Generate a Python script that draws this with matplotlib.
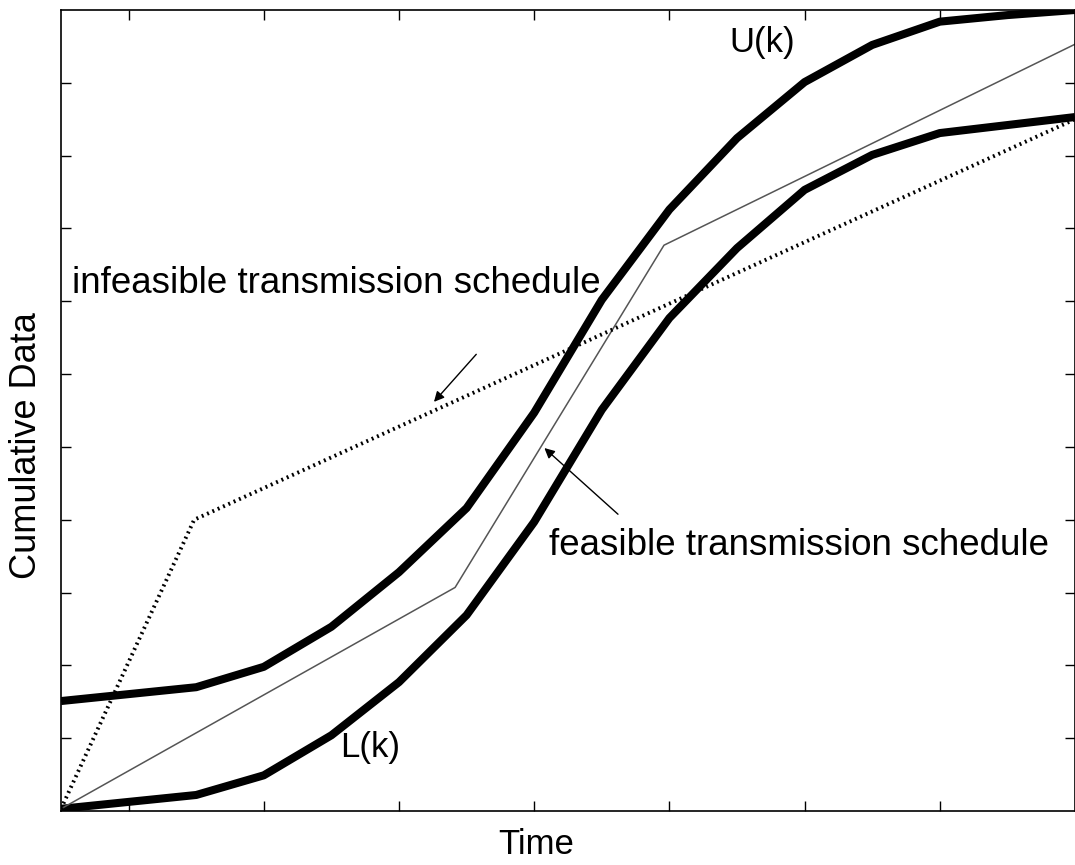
import numpy as np
import matplotlib
matplotlib.use("Agg")
import matplotlib.pyplot as plt

plt.rcParams['font.family'] = ['Liberation Sans', 'DejaVu Sans']

# time steps and bounds
k = [0, 2, 3, 4, 5, 6, 7, 8, 9, 10, 11, 12, 13, 14, 15]
upper = [1.51, 1.70, 1.98, 2.53, 3.28, 4.16, 5.47, 7.02, 8.26, 9.24, 10.01, 10.52, 10.84, 10.93, 11.0]
lower = [0.03, 0.22, 0.49, 1.04, 1.77, 2.69, 3.97, 5.51, 6.77, 7.73, 8.53, 9.01, 9.31, 9.42, 9.53]

# feasible schedule (thin line)
feas_t = [0, 5.83, 8.92, 15]
feas_y = [0.03, 3.07, 7.77, 10.53]

# infeasible schedule (dotted)
infeas_t = [0, 1.97, 15]
infeas_y = [0.03, 4.0, 9.5]

fig = plt.figure(figsize=(10.75, 8.65), dpi=100)
ax = fig.add_axes([61 / 1075, 54 / 865, 1014 / 1075, 801 / 865])

ax.plot(k, upper, color='black', lw=5.8, solid_capstyle='butt', solid_joinstyle='round')
ax.plot(k, lower, color='black', lw=5.8, solid_capstyle='butt', solid_joinstyle='round')
ax.plot(feas_t, feas_y, color='#555555', lw=1.1)
ax.plot(infeas_t, infeas_y, color='black', lw=2.8, linestyle=(0, (0.5, 1.0)))

ax.set_xlim(0, 15)
ax.set_ylim(0, 11)
ax.set_xticks([1, 3, 5, 7, 9, 11, 13])
ax.set_yticks(range(1, 11))
ax.tick_params(direction='in', top=True, right=True, length=7, width=1,
               labelbottom=False, labelleft=False)
for s in ax.spines.values():
    s.set_linewidth(1.2)

ax.set_xlabel('Time', fontsize=25, va='center')
ax.xaxis.set_label_coords(0.469, -0.042)
ax.set_ylabel('Cumulative Data', fontsize=26, va='center')
ax.yaxis.set_label_coords(-0.034, 0.456)

fs = 26.5
ax.text(10.37, 10.56, 'U(k)', fontsize=25, ha='center', va='center')
ax.text(4.57, 0.87, 'L(k)', fontsize=25, ha='center', va='center')
ax.text(0.16, 7.25, 'infeasible transmission schedule', fontsize=fs, ha='left', va='center')
ax.text(7.22, 3.65, 'feasible transmission schedule', fontsize=fs, ha='left', va='center')

ax.annotate('', xy=(5.49, 5.59), xytext=(6.17, 6.30),
            arrowprops=dict(arrowstyle='-|>', lw=1, color='black', mutation_scale=15))
ax.annotate('', xy=(7.12, 5.01), xytext=(8.27, 4.05),
            arrowprops=dict(arrowstyle='-|>', lw=1, color='black', mutation_scale=15))

fig.savefig('out.png', dpi=100)
